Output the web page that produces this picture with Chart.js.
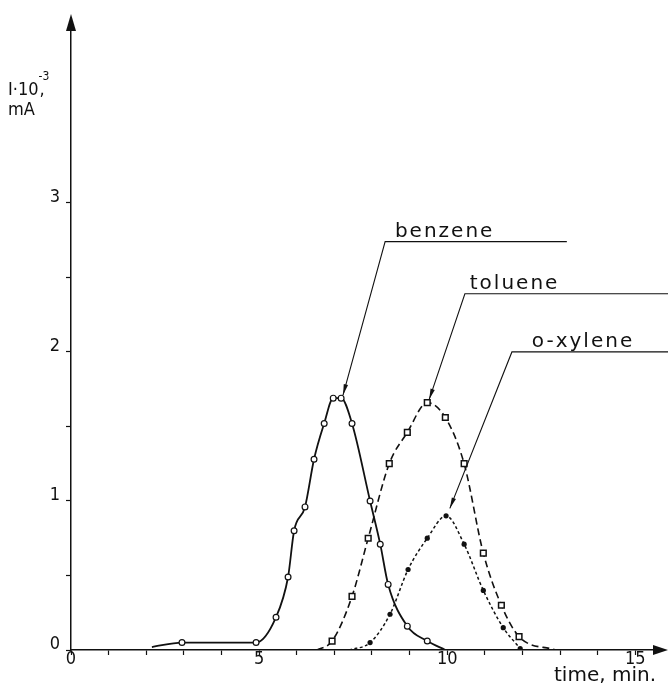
<!DOCTYPE html>
<html>
<head>
<meta charset="utf-8">
<script src="https://cdn.jsdelivr.net/npm/chart.js@4.4.0/dist/chart.umd.min.js"></script>
<style>
  html, body { margin: 0; padding: 0; background: #fff; }
  #wrap { width: 668px; height: 685px; }
</style>
</head>
<body>
<div id="wrap"><canvas id="chart" width="668" height="685"></canvas></div>
<script>
// ==== DATA (time in min, I x 10^-3 mA) ====
const benzeneTime = [2.15, 2.95, 4.92, 5.45, 5.77, 5.93, 6.22, 6.46, 6.73, 6.97, 7.18, 7.47, 7.95, 8.22, 8.43, 8.94, 9.47, 9.95];
const benzeneI    = [0.02, 0.05, 0.05, 0.22, 0.49, 0.80, 0.96, 1.28, 1.52, 1.69, 1.69, 1.52, 1.00, 0.71, 0.44, 0.16, 0.06, 0.00];

const tolueneTime = [6.54, 6.94, 7.47, 7.90, 8.46, 8.94, 9.47, 9.95, 10.45, 10.96, 11.44, 11.91, 12.87];
const tolueneI    = [0.00, 0.06, 0.36, 0.75, 1.25, 1.46, 1.66, 1.56, 1.25, 0.65, 0.30, 0.09, 0.00];

const xyleneTime = [7.39, 7.95, 8.48, 8.96, 9.47, 9.97, 10.45, 10.96, 11.49, 11.94];
const xyleneI    = [0.00, 0.05, 0.24, 0.54, 0.75, 0.90, 0.71, 0.40, 0.15, 0.01];

// axis ticks
const xTicks = [0, 1, 2, 3, 4, 5, 6, 7, 8, 9, 10, 11, 12, 13, 14, 15];
const xTickLabels = [0, 5, 10, 15];
const yTicks = [0, 0.5, 1, 1.5, 2, 2.5, 3];
const yTickLabels = [0, 1, 2, 3];

// leader labels (data units): text, text start, elbow, end of underline, arrow tip
const labelNames   = ["benzene", "toluene", "o-xylene"];
const labelTextX   = [8.61, 10.6, 12.25];
const labelElbow   = [[8.35, 2.74], [10.47, 2.39], [11.72, 2.00]];
const labelLineEnd = [13.18, 15.87, 15.87];
const labelTip     = [[7.23, 1.71], [9.52, 1.68], [10.07, 0.95]];

const INK = "#111";
const NUM_FONT = '"DejaVu Sans Condensed", "Liberation Sans Narrow", "DejaVu Sans", sans-serif';
const TXT_FONT = '"DejaVu Sans", sans-serif';

const toXY = (xs, ys) => xs.map((x, i) => ({ x: x, y: ys[i] }));

// ==== DRAWING EXTRAS: arrows, y title, leader labels ====
function arrowHead(ctx, tipX, tipY, fromX, fromY, len, half) {
  const a = Math.atan2(tipY - fromY, tipX - fromX);
  ctx.beginPath();
  ctx.moveTo(tipX, tipY);
  ctx.lineTo(tipX - len * Math.cos(a) + half * Math.sin(a), tipY - len * Math.sin(a) - half * Math.cos(a));
  ctx.lineTo(tipX - len * Math.cos(a) - half * Math.sin(a), tipY - len * Math.sin(a) + half * Math.cos(a));
  ctx.closePath();
  ctx.fill();
}

const extras = {
  id: "extras",
  afterDraw(chart) {
    const { ctx, chartArea: ca, scales: { x, y } } = chart;
    ctx.save();
    ctx.fillStyle = INK;
    ctx.strokeStyle = INK;

    // axis arrows
    arrowHead(ctx, ca.left, ca.top - 16, ca.left, ca.top + 10, 17, 5);
    arrowHead(ctx, ca.right + 12, ca.bottom, ca.right - 10, ca.bottom, 15, 5);

    // y axis title
    ctx.textBaseline = "alphabetic";
    ctx.textAlign = "left";
    ctx.font = "18px " + NUM_FONT;
    let tx = 8;
    ctx.fillText("I·10", tx, 95);
    tx += ctx.measureText("I·10").width;
    ctx.font = "12px " + NUM_FONT;
    ctx.fillText("-3", tx, 80);
    ctx.font = "18px " + NUM_FONT;
    ctx.fillText(",", tx + 1, 95);
    ctx.fillText("mA", 8, 115);

    // leader labels
    ctx.lineWidth = 1.1;
    ctx.font = "20px " + TXT_FONT;
    ctx.letterSpacing = "2px";
    labelNames.forEach((name, i) => {
      const ex = x.getPixelForValue(labelElbow[i][0]);
      const ey = y.getPixelForValue(labelElbow[i][1]);
      const rx = x.getPixelForValue(labelLineEnd[i]);
      const px = x.getPixelForValue(labelTip[i][0]);
      const py = y.getPixelForValue(labelTip[i][1]);
      ctx.beginPath();
      ctx.moveTo(rx, ey);
      ctx.lineTo(ex, ey);
      ctx.lineTo(px, py);
      ctx.stroke();
      arrowHead(ctx, px, py, ex, ey, 11, 2.2);
      ctx.fillText(name, x.getPixelForValue(labelTextX[i]), ey - 5);
    });
    ctx.restore();
  }
};

// ==== CHART ====
new Chart(document.getElementById("chart"), {
  type: "line",
  data: {
    datasets: [
      {
        label: "benzene",
        data: toXY(benzeneTime, benzeneI),
        borderColor: INK,
        borderWidth: 1.8,
        cubicInterpolationMode: "monotone",
        pointStyle: "circle",
        pointRadius: benzeneTime.map((t, i) => (i === 0 || i === benzeneTime.length - 1 ? 0 : 2.9)),
        pointBorderWidth: 1.2,
        pointBorderColor: INK,
        pointBackgroundColor: "#fff",
        fill: false
      },
      {
        label: "toluene",
        data: toXY(tolueneTime, tolueneI),
        borderColor: INK,
        borderWidth: 1.6,
        borderDash: [7, 4],
        cubicInterpolationMode: "monotone",
        pointStyle: "rect",
        pointRadius: tolueneTime.map((t, i) => (i === 0 || i === tolueneTime.length - 1 ? 0 : 4)),
        pointBorderWidth: 1.5,
        pointBorderColor: INK,
        pointBackgroundColor: "#fff",
        fill: false
      },
      {
        label: "o-xylene",
        data: toXY(xyleneTime, xyleneI),
        borderColor: INK,
        borderWidth: 1.5,
        borderDash: [3, 2.5],
        cubicInterpolationMode: "monotone",
        pointStyle: "circle",
        pointRadius: xyleneTime.map((t, i) => (i === 0 ? 0 : 2.6)),
        pointBorderWidth: 0,
        pointBackgroundColor: INK,
        fill: false
      }
    ]
  },
  options: {
    responsive: false,
    animation: false,
    devicePixelRatio: 1,
    layout: { padding: { top: 30, right: 12, left: 0, bottom: 0 } },
    plugins: { legend: { display: false }, tooltip: { enabled: false } },
    scales: {
      x: {
        type: "linear",
        min: 0,
        max: 15.55,
        afterFit(scale) { scale.height = 35; },
        afterBuildTicks(scale) { scale.ticks = xTicks.map(v => ({ value: v })); },
        border: { display: true, color: INK, width: 1.5 },
        grid: { drawOnChartArea: false, drawTicks: true, tickLength: 5, tickColor: INK, tickWidth: 1.2 },
        ticks: {
          autoSkip: false,
          maxRotation: 0,
          padding: -6,
          color: INK,
          font: { family: NUM_FONT, size: 18 },
          callback: (v) => (xTickLabels.includes(v) ? String(v) : "")
        },
        title: {
          display: true,
          text: "time, min.",
          align: "end",
          color: INK,
          font: { family: TXT_FONT, size: 20 },
          padding: { top: 0, bottom: -3 }
        }
      },
      y: {
        type: "linear",
        min: 0,
        max: 4.16,
        afterFit(scale) { scale.width = 71; },
        afterBuildTicks(scale) { scale.ticks = yTicks.map(v => ({ value: v })); },
        border: { display: true, color: INK, width: 1.5 },
        grid: { drawOnChartArea: false, drawTicks: true, tickLength: 5, tickColor: INK, tickWidth: 1.2 },
        ticks: {
          autoSkip: false,
          padding: 6,
          labelOffset: -6,
          color: INK,
          font: { family: NUM_FONT, size: 18 },
          callback: (v) => (yTickLabels.includes(v) ? String(v) : "")
        }
      }
    }
  },
  plugins: [extras]
});
</script>
</body>
</html>
